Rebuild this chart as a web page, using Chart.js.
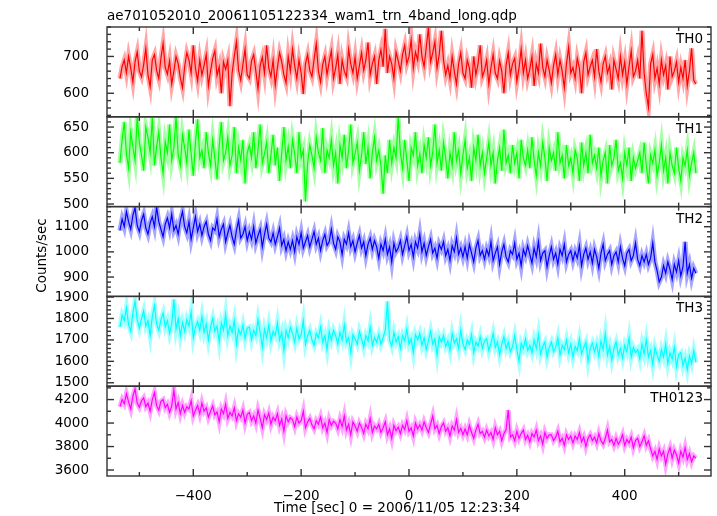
<!DOCTYPE html>
<html>
<head>
<meta charset="utf-8">
<script src="https://cdn.jsdelivr.net/npm/chart.js@4/dist/chart.umd.min.js"></script>
<style>
  html, body { margin: 0; padding: 0; background: #fff; }
  #wrap { width: 717px; height: 516px; }
</style>
</head>
<body>
<div id="wrap"><canvas id="lc" width="717" height="516"></canvas></div>
<script>
// light curve, 4 s bins, t = T_START + i * T_STEP
const T_START = -536
const T_STEP = 4

const th0 = [
  640, 672, 690, 655, 700, 668, 630, 685, 712, 660,
  645, 678, 722, 650, 618, 690, 705, 662, 640, 695,
  735, 670, 652, 688, 625, 660, 700, 680, 642, 615,
  672, 710, 690, 655, 730, 668, 633, 690, 650, 676,
  705, 620, 660, 695, 715, 648, 672, 600, 685, 665,
  690, 565, 655, 700, 740, 662, 635, 678, 720, 650,
  640, 688, 705, 660, 612, 675, 698, 655, 730, 668,
  645, 690, 622, 670, 710, 685, 650, 628, 700, 660,
  720, 675, 640, 690, 655, 598, 680, 705, 662, 645,
  692, 735, 660, 630, 678, 700, 650, 685, 715, 640,
  668, 705, 625, 690, 660, 645, 720, 680, 655, 698,
  640, 675, 710, 662, 690, 738, 650, 680, 700, 625,
  690, 718, 672, 775, 655, 700, 680, 640, 712, 688,
  660, 705, 730, 680, 700, 745, 668, 712, 690, 760,
  700, 672, 725, 778, 685, 710, 740, 668, 705, 770,
  690, 650, 675, 640, 700, 660, 625, 680, 710, 655,
  640, 690, 668, 615, 700, 650, 680, 730, 645, 662,
  690, 625, 670, 705, 655, 640, 688, 660, 600, 675,
  710, 650, 680, 695, 632, 668, 720, 655, 690, 640,
  665, 700, 620, 680, 655, 735, 670, 645, 690, 662,
  628, 675, 705, 650, 690, 660, 615, 680, 725, 655,
  670, 640, 695, 668, 600, 685, 710, 650, 672, 690,
  645, 720, 660, 630, 680, 700, 655, 675, 610, 690,
  665, 640, 700, 650, 685, 625, 672, 715, 645, 660,
  690, 640, 770, 655, 600, 562, 680, 705, 640, 668,
  625, 690, 650, 675, 610, 700, 645, 660, 685, 630,
  670, 640, 690, 620, 660, 722, 635, 625
]

const th1 = [
  580, 625, 660, 598, 570, 640, 612, 585, 670, 620,
  595, 565, 650, 630, 600, 668, 575, 612, 640, 590,
  560, 622, 600, 655, 585, 610, 670, 595, 575, 635,
  610, 580, 645, 598, 555, 620, 665, 590, 605, 570,
  640, 600, 575, 625, 590, 548, 612, 660, 585, 600,
  630, 575, 595, 650, 560, 610, 585, 625, 540, 600,
  615, 590, 640, 570, 605, 655, 580, 598, 620, 560,
  595, 635, 575, 610, 545, 600, 650, 585, 612, 570,
  625, 598, 560, 640, 590, 605, 505, 580, 615, 595,
  570, 630, 600, 585, 648, 560, 605, 590, 625, 575,
  600, 540, 615, 590, 635, 570, 605, 655, 580, 598,
  620, 565, 595, 640, 578, 610, 550, 600, 630, 585,
  605, 575, 520, 595, 560, 625, 580, 610, 590, 668,
  600, 570, 625, 585, 545, 610, 595, 640, 575, 598,
  560, 615, 590, 630, 575, 600, 655, 580, 605, 565,
  620, 590, 550, 600, 575, 640, 585, 605, 560, 595,
  625, 570, 590, 545, 610, 585, 635, 575, 600, 560,
  590, 620, 575, 600, 540, 585, 610, 565, 645, 580,
  595, 560, 615, 580, 600, 550, 625, 590, 575, 605,
  570, 630, 585, 555, 600, 575, 620, 590, 545, 610,
  585, 600, 565, 640, 580, 595, 550, 615, 575, 590,
  560, 605, 590, 545, 620, 575, 600, 560, 635, 580,
  595, 570, 610, 555, 585, 600, 540, 615, 575, 590,
  625, 565, 580, 550, 600, 575, 610, 545, 590, 570,
  585, 600, 560, 620, 575, 540, 595, 580, 605, 555,
  580, 615, 565, 590, 540, 600, 575, 560, 610, 570,
  545, 590, 575, 605, 555, 580, 600, 560
]

const th2 = [
  1085, 1130, 1100, 1160, 1120, 1090, 1145, 1175, 1105, 1080,
  1125, 1150, 1095, 1070, 1115, 1140, 1100, 1178, 1120, 1090,
  1060, 1110, 1135, 1095, 1150, 1085, 1105, 1070, 1125, 1160,
  1100, 1075, 1120, 1050, 1095, 1140, 1080, 1110, 1065, 1100,
  1120, 1070, 1045, 1095, 1085, 1130, 1060, 1090, 1110, 1040,
  1075, 1105, 1060, 1030, 1085, 1125, 1055, 1070, 1100, 1045,
  1080, 1050, 1100, 1035, 1065, 1090, 1020, 1070, 1110, 1055,
  1040, 1075, 1030, 1060, 1095, 1025, 1050, 1005, 1040, 1010,
  1045, 1000, 1060, 1030, 1075, 1015, 1040, 1065, 1020, 1050,
  1080, 1030, 1055, 1005, 1045, 1070, 1025, 1040, 1090, 1035,
  1010, 1060, 1040, 990, 1050, 1030, 1075, 1020, 1045, 1000,
  1035, 1065, 1015, 1040, 985, 1030, 1055, 1010, 1045, 1020,
  975, 1030, 1005, 1050, 990, 1020, 960, 1035, 1000, 1015,
  1045, 990, 1025, 1060, 1005, 1030, 980, 1040, 1015, 1070,
  1000, 1035, 985, 1020, 1050, 995, 1015, 975, 1030, 1010,
  1040, 985, 1010, 965, 1025, 1000, 1055, 990, 1015, 980,
  1020, 975, 1030, 995, 960, 1015, 1045, 985, 1005, 970,
  1010, 985, 1040, 965, 995, 1020, 950, 1000, 1030, 980,
  960, 1005, 990, 1035, 970, 995, 945, 1010, 985, 1025,
  990, 955, 1015, 980, 1040, 965, 995, 1005, 940, 985,
  1020, 970, 995, 950, 1010, 985, 1030, 960, 990, 1005,
  965, 1000, 975, 1025, 945, 990, 1015, 970, 1000, 955,
  1010, 980, 935, 995, 1030, 965, 990, 1005, 950, 985,
  1000, 960, 1020, 975, 945, 995, 1010, 965, 985, 1035,
  970, 945, 985, 960, 990, 950, 975, 1035, 960, 925,
  880, 900, 945, 915, 960, 930, 890, 950, 920, 965,
  905, 940, 1040, 915, 950, 895, 935, 915
]

const th3 = [
  1760, 1815, 1790, 1850, 1770, 1740, 1825, 1880, 1795, 1755,
  1800, 1835, 1765, 1790, 1720, 1810, 1860, 1775, 1745, 1795,
  1825, 1760, 1790, 1730, 1775, 1890, 1750, 1800, 1720, 1780,
  1740, 1795, 1765, 1830, 1710, 1760, 1785, 1745, 1810, 1735,
  1775, 1700, 1760, 1800, 1740, 1765, 1690, 1780, 1745, 1820,
  1720, 1765, 1735, 1790, 1680, 1750, 1725, 1770, 1705, 1755,
  1760, 1700, 1745, 1720, 1795, 1735, 1665, 1750, 1710, 1770,
  1695, 1740, 1720, 1780, 1700, 1735, 1650, 1745, 1710, 1760,
  1730, 1690, 1755, 1705, 1725, 1790, 1680, 1720, 1745, 1700,
  1675, 1730, 1710, 1760, 1690, 1720, 1655, 1740, 1700, 1745,
  1720, 1680, 1735, 1700, 1770, 1690, 1710, 1640, 1725, 1705,
  1680, 1740, 1705, 1665, 1720, 1695, 1760, 1675, 1710, 1690,
  1725, 1680, 1710, 1745, 1880, 1700, 1670, 1735, 1690, 1715,
  1660, 1720, 1695, 1750, 1680, 1705, 1640, 1725, 1700, 1730,
  1675, 1710, 1655, 1695, 1740, 1680, 1705, 1630, 1715, 1690,
  1720, 1670, 1695, 1650, 1730, 1685, 1705, 1660, 1745, 1680,
  1655, 1700, 1680, 1725, 1640, 1690, 1670, 1715, 1660, 1695,
  1705, 1650, 1685, 1730, 1665, 1690, 1630, 1680, 1715, 1660,
  1690, 1645, 1670, 1720, 1655, 1600, 1685, 1660, 1705, 1650,
  1675, 1640, 1700, 1660, 1725, 1635, 1670, 1690, 1620, 1665,
  1690, 1645, 1665, 1710, 1630, 1675, 1655, 1700, 1640, 1680,
  1620, 1670, 1650, 1705, 1635, 1665, 1690, 1600, 1660, 1685,
  1645, 1680, 1625, 1695, 1655, 1730, 1630, 1670, 1605, 1660,
  1690, 1630, 1660, 1615, 1675, 1645, 1710, 1620, 1665, 1640,
  1655, 1610, 1680, 1635, 1700, 1620, 1650, 1585, 1665, 1630,
  1600, 1655, 1620, 1680, 1590, 1640, 1610, 1665, 1575, 1630,
  1640, 1580, 1615, 1560, 1625, 1590, 1650, 1595
]

const th0123 = [
  4140, 4200, 4165, 4250, 4180, 4120, 4230, 4290, 4170, 4135,
  4190, 4215, 4140, 4170, 4100, 4200, 4260, 4150, 4110, 4185,
  4200, 4130, 4160, 4090, 4145, 4280, 4120, 4175, 4080, 4150,
  4090, 4140, 4120, 4190, 4060, 4110, 4150, 4080, 4170, 4100,
  4130, 4050, 4100, 4145, 4070, 4095, 4010, 4120, 4080, 4160,
  4040, 4090, 4060, 4130, 4020, 4080, 4050, 4110, 4000, 4075,
  4090, 4020, 4060, 4000, 4110, 4040, 3960, 4070, 4030, 4085,
  3990, 4050, 4020, 4080, 3980, 4035, 3930, 4060, 4010, 4045,
  4030, 3970, 4050, 4000, 4020, 4100, 3960, 4010, 4040, 3985,
  3950, 4020, 3990, 4050, 3960, 4000, 3920, 4030, 3980, 4015,
  4000, 3950, 4030, 3970, 4060, 3940, 3990, 3900, 4010, 3975,
  3930, 4000, 3965, 3910, 3990, 3950, 4040, 3920, 3975, 3950,
  3990, 3920, 3960, 4010, 3900, 3950, 3870, 3980, 3935, 3965,
  3910, 3980, 3945, 4020, 3930, 3960, 3890, 4000, 3950, 3985,
  3940, 4010, 3960, 3920, 3990, 4060, 3950, 3980, 3910, 3970,
  4000, 3930, 3960, 3890, 3975, 3940, 4030, 3920, 3955, 3900,
  3950, 3900, 3980, 3920, 3870, 3940, 3990, 3910, 3930, 3880,
  3940, 3890, 3920, 3860, 3960, 3900, 3930, 3850, 3910, 3945,
  4110, 3880, 3900, 3850, 3930, 3870, 3910, 3940, 3860, 3895,
  3840, 3910, 3880, 3940, 3850, 3890, 3820, 3920, 3870, 3900,
  3900, 3850, 3880, 3930, 3840, 3870, 3810, 3900, 3860, 3890,
  3830, 3890, 3860, 3920, 3840, 3880, 3800, 3870, 3900, 3850,
  3880, 3830, 3910, 3850, 3820, 3870, 3940, 3840, 3860, 3810,
  3870, 3820, 3850, 3900, 3810, 3860, 3830, 3880, 3790, 3850,
  3870, 3800, 3840, 3890, 3810, 3850, 3780, 3720, 3760, 3690,
  3780, 3720, 3760, 3650, 3740, 3790, 3700, 3770, 3730, 3660,
  3760, 3710, 3790, 3690, 3740, 3670, 3720, 3700
]

const panelNames = ['TH0', 'TH1', 'TH2', 'TH3', 'TH0123']
const panelSeries = [th0, th1, th2, th3, th0123]

// tick labels
const xTicks = [-400, -200, 0, 200, 400]
const th0Ticks = [600, 700]
const th1Ticks = [500, 550, 600, 650]
const th2Ticks = [900, 1000, 1100]
const th3Ticks = [1500, 1600, 1700, 1800, 1900]
const th0123Ticks = [3600, 3800, 4000, 4200]
const panelTicks = [th0Ticks, th1Ticks, th2Ticks, th3Ticks, th0123Ticks]

// axis look
const yRanges = [[536, 780], [495, 670], [823, 1180], [1484, 1903], [3549, 4314]]
const yMinor = [20, 10, 20, 20, 100]
const colors = ['#ff0000', '#00ff00', '#0000ff', '#00ffff', '#ff00ff']
const halos = ['rgba(255,0,0,0.35)', 'rgba(0,255,0,0.35)', 'rgba(0,0,255,0.35)', 'rgba(0,255,255,0.35)', 'rgba(255,0,255,0.35)']

const FONT = 'DejaVu Sans'
const FONT_SIZE = 13.5

function toPoints(values) {
  return values.map((v, i) => ({ x: T_START + i * T_STEP, y: v }))
}

// ===============================
// DATASETS (halo = error bar look, then line)
// ===============================
const datasets = []
panelSeries.forEach((vals, i) => {
  const pts = toPoints(vals)
  datasets.push({
    data: pts, yAxisID: 'y' + i, borderColor: halos[i], borderWidth: 5,
    pointRadius: 0, tension: 0, clip: 0
  })
  datasets.push({
    data: pts, yAxisID: 'y' + i, borderColor: colors[i], borderWidth: 1.2,
    pointRadius: 0, tension: 0, clip: 0
  })
})

// ===============================
// SCALES
// ===============================
const scales = {
  x: {
    type: 'linear', position: 'bottom', min: -560, max: 560,
    grid: { display: false }, border: { display: false },
    afterBuildTicks: s => { s.ticks = xTicks.map(v => ({ value: v })) },
    afterFit: s => { s.height = 40 },
    ticks: {
      color: '#000', padding: 4, maxRotation: 0, autoSkip: false,
      font: { family: FONT, size: FONT_SIZE },
      callback: v => String(v).replace('-', '\u2212')
    }
  }
}
panelNames.forEach((name, i) => {
  scales['y' + i] = {
    type: 'linear', position: 'left', stack: 'lc', stackWeight: 1,
    weight: 10 - i,
    min: yRanges[i][0], max: yRanges[i][1],
    grid: { display: false }, border: { display: false },
    afterBuildTicks: s => { s.ticks = panelTicks[i].map(v => ({ value: v })) },
    afterFit: s => { s.width = 107 },
    ticks: {
      color: '#000', padding: 10, autoSkip: false,
      font: { family: FONT, size: FONT_SIZE },
      callback: v => String(v)
    }
  }
})

// ===============================
// FRAMES, INWARD TICKS, TEXT
// ===============================
const framePlugin = {
  id: 'frames',
  afterDraw(chart) {
    const { ctx, chartArea, scales } = chart
    const xs = scales.x
    const L = chartArea.left, R = chartArea.right

    ctx.save()
    ctx.strokeStyle = '#333'
    ctx.lineWidth = 1.4
    const seg = (x1, y1, x2, y2) => {
      ctx.beginPath(); ctx.moveTo(x1, y1); ctx.lineTo(x2, y2); ctx.stroke()
    }

    panelNames.forEach((name, i) => {
      const ys = scales['y' + i]
      const T = ys.top, B = ys.bottom
      ctx.strokeRect(L, T, R - L, B - T)

      for (let v = -500; v <= 500; v += 100) {
        const px = xs.getPixelForValue(v)
        const len = v % 200 === 0 ? 7 : 4
        seg(px, T, px, T + len)
        seg(px, B, px, B - len)
      }

      const step = yMinor[i]
      for (let v = Math.ceil(ys.min / step) * step; v <= ys.max; v += step) {
        const py = ys.getPixelForValue(v)
        const len = panelTicks[i].includes(v) ? 7 : 4
        seg(L, py, L + len, py)
        seg(R, py, R - len, py)
      }

      ctx.fillStyle = '#000'
      ctx.font = FONT_SIZE + 'px "' + FONT + '"'
      ctx.textAlign = 'right'
      ctx.textBaseline = 'alphabetic'
      ctx.fillText(name, R - 8, T + 16)
    })

    ctx.fillStyle = '#000'
    ctx.font = FONT_SIZE + 'px "' + FONT + '"'
    ctx.textAlign = 'left'
    ctx.textBaseline = 'alphabetic'
    ctx.fillText('ae701052010_20061105122334_wam1_trn_4band_long.qdp', L, 20)

    ctx.textAlign = 'center'
    ctx.fillText('Time [sec] 0 = 2006/11/05 12:23:34', 397, 512)

    ctx.translate(45.5, (chartArea.top + chartArea.bottom) / 2 + 4)
    ctx.rotate(-Math.PI / 2)
    ctx.fillText('Counts/sec', 0, 0)
    ctx.restore()
  }
}

new Chart(document.getElementById('lc'), {
  type: 'line',
  data: { datasets },
  options: {
    responsive: false,
    animation: false,
    events: [],
    layout: { padding: { left: 0, top: 27, right: 6, bottom: 0 } },
    plugins: { legend: { display: false }, tooltip: { enabled: false }, title: { display: false } },
    scales
  },
  plugins: [framePlugin]
})
</script>
</body>
</html>
